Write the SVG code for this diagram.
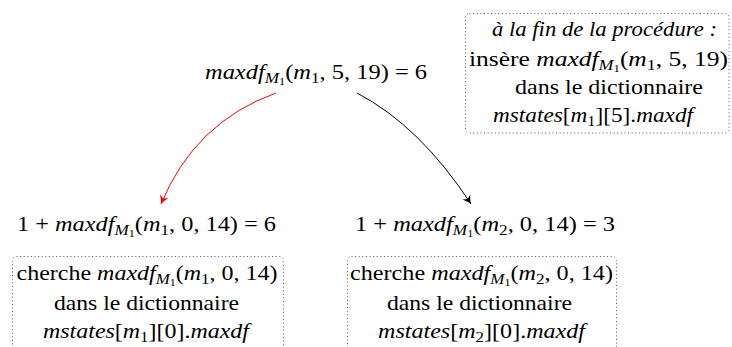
<svg xmlns="http://www.w3.org/2000/svg" width="732" height="347" viewBox="0 0 732 347">
<style>
.t { font-size: 22px; fill: #000; }
.i { font-style: italic; }
.s1 { font-size: 15.5px; }
.s2 { font-size: 11px; }
.box { fill: none; stroke: #555; stroke-width: 1; stroke-dasharray: 1 2.6; }
.edge { fill: none; stroke-width: 1; }
</style>
<defs>
<marker id="ahr" markerUnits="userSpaceOnUse" markerWidth="12" markerHeight="12" refX="0" refY="0" viewBox="-8 -5 10 10" orient="auto">
<path d="M-7,-3.8 Q-3,-1 0,0 Q-3,1 -7,3.8 L-5,0 Z" fill="#f00"/>
</marker>
<marker id="ahk" markerUnits="userSpaceOnUse" markerWidth="12" markerHeight="12" refX="0" refY="0" viewBox="-8 -5 10 10" orient="auto">
<path d="M-7,-3.8 Q-3,-1 0,0 Q-3,1 -7,3.8 L-5,0 Z" fill="#000"/>
</marker>
</defs>

<g id="connectors">
<path class="edge" d="M276,93 Q195,122 161,204" stroke="#f00" marker-end="url(#ahr)"/>
<path class="edge" d="M357,93 Q420,126 471,204" stroke="#000" marker-end="url(#ahk)"/>
</g>

<g id="root">
<text class="t" font-family="Liberation Serif, serif" x="205" y="79" textLength="222" lengthAdjust="spacingAndGlyphs"><tspan class="i">maxdf</tspan><tspan class="i s1" dy="4">M</tspan><tspan class="s2" dy="2">1</tspan><tspan dy="-6">(</tspan><tspan class="i">m</tspan><tspan class="s1" dy="4">1</tspan><tspan dy="-4">, 5, 19) = 6</tspan></text>
</g>

<g id="note-root">
<rect class="box" x="465.5" y="13.5" width="263.5" height="119.5" rx="4"/>
<text class="t i" font-family="Liberation Serif, serif" x="492" y="36" textLength="225" lengthAdjust="spacingAndGlyphs">à la fin de la procédure :</text>
<text class="t" font-family="Liberation Serif, serif" x="469" y="66" textLength="259" lengthAdjust="spacingAndGlyphs">insère <tspan class="i">maxdf</tspan><tspan class="i s1" dy="4">M</tspan><tspan class="s2" dy="2">1</tspan><tspan dy="-6">(</tspan><tspan class="i">m</tspan><tspan class="s1" dy="4">1</tspan><tspan dy="-4">, 5, 19)</tspan></text>
<text class="t" font-family="Liberation Serif, serif" x="515" y="94" textLength="188" lengthAdjust="spacingAndGlyphs">dans le dictionnaire</text>
<text class="t" font-family="Liberation Serif, serif" x="493" y="122" textLength="200" lengthAdjust="spacingAndGlyphs"><tspan class="i">mstates</tspan>[<tspan class="i">m</tspan><tspan class="s1" dy="4">1</tspan><tspan dy="-4">][5].</tspan><tspan class="i">maxdf</tspan></text>
</g>

<g id="left">
<text class="t" font-family="Liberation Serif, serif" x="17" y="231" textLength="259" lengthAdjust="spacingAndGlyphs">1 + <tspan class="i">maxdf</tspan><tspan class="i s1" dy="4">M</tspan><tspan class="s2" dy="2">1</tspan><tspan dy="-6">(</tspan><tspan class="i">m</tspan><tspan class="s1" dy="4">1</tspan><tspan dy="-4">, 0, 14) = 6</tspan></text>
</g>

<g id="note-left">
<rect class="box" x="12.5" y="256.5" width="271" height="100" rx="4"/>
<text class="t" font-family="Liberation Serif, serif" x="16.5" y="280" textLength="261" lengthAdjust="spacingAndGlyphs">cherche <tspan class="i">maxdf</tspan><tspan class="i s1" dy="4">M</tspan><tspan class="s2" dy="2">1</tspan><tspan dy="-6">(</tspan><tspan class="i">m</tspan><tspan class="s1" dy="4">1</tspan><tspan dy="-4">, 0, 14)</tspan></text>
<text class="t" font-family="Liberation Serif, serif" x="54" y="310" textLength="185" lengthAdjust="spacingAndGlyphs">dans le dictionnaire</text>
<text class="t" font-family="Liberation Serif, serif" x="43" y="338" textLength="206" lengthAdjust="spacingAndGlyphs"><tspan class="i">mstates</tspan>[<tspan class="i">m</tspan><tspan class="s1" dy="4">1</tspan><tspan dy="-4">][0].</tspan><tspan class="i">maxdf</tspan></text>
</g>

<g id="right">
<text class="t" font-family="Liberation Serif, serif" x="355" y="231" textLength="260" lengthAdjust="spacingAndGlyphs">1 + <tspan class="i">maxdf</tspan><tspan class="i s1" dy="4">M</tspan><tspan class="s2" dy="2">1</tspan><tspan dy="-6">(</tspan><tspan class="i">m</tspan><tspan class="s1" dy="4">2</tspan><tspan dy="-4">, 0, 14) = 3</tspan></text>
</g>

<g id="note-right">
<rect class="box" x="347.5" y="256.5" width="269" height="100" rx="4"/>
<text class="t" font-family="Liberation Serif, serif" x="350" y="280" textLength="263" lengthAdjust="spacingAndGlyphs">cherche <tspan class="i">maxdf</tspan><tspan class="i s1" dy="4">M</tspan><tspan class="s2" dy="2">1</tspan><tspan dy="-6">(</tspan><tspan class="i">m</tspan><tspan class="s1" dy="4">2</tspan><tspan dy="-4">, 0, 14)</tspan></text>
<text class="t" font-family="Liberation Serif, serif" x="387" y="310" textLength="185" lengthAdjust="spacingAndGlyphs">dans le dictionnaire</text>
<text class="t" font-family="Liberation Serif, serif" x="378" y="338" textLength="207" lengthAdjust="spacingAndGlyphs"><tspan class="i">mstates</tspan>[<tspan class="i">m</tspan><tspan class="s1" dy="4">2</tspan><tspan dy="-4">][0].</tspan><tspan class="i">maxdf</tspan></text>
</g>
</svg>
